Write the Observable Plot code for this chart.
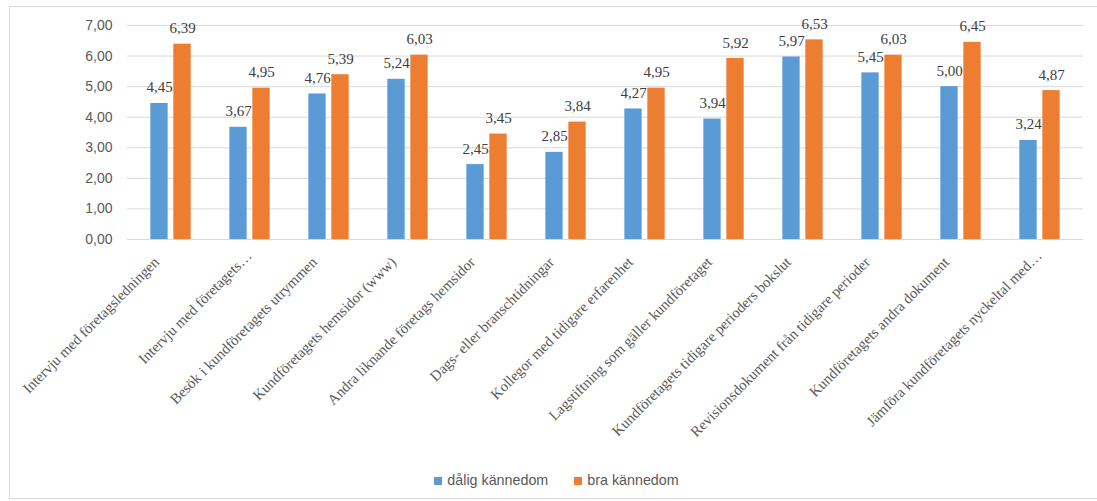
<!DOCTYPE html>
<html>
<head>
<meta charset="utf-8">
<script src="https://cdn.jsdelivr.net/npm/d3@7"></script>
<script src="https://cdn.jsdelivr.net/npm/@observablehq/plot@0.6"></script>
<style>
  html, body { margin: 0; padding: 0; background: #fff; }
  #frame {
    position: absolute; left: 9px; top: 6px;
    width: 1100px; height: 493px;
    border: 1px solid #d9d9d9; box-sizing: border-box;
  }
  #legend {
    position: absolute; left: 0; top: 465px; width: 1093px;
    display: flex; justify-content: center; gap: 26px;
    font-family: "Liberation Sans", sans-serif; font-size: 14.3px; color: #595959;
  }
  #legend span.sw { display: inline-block; width: 8px; height: 8px; margin-right: 5px; }
</style>
</head>
<body>
<div id="frame">
  <div id="chart"></div>
  <div id="legend"></div>
</div>
<script>
// Sources of information, rated by auditors with poor vs. good knowledge of the client
const categories = [
  "Intervju med företagsledningen",
  "Intervju med företagets…",
  "Besök i kundföretagets utrymmen",
  "Kundföretagets hemsidor (www)",
  "Andra liknande företags hemsidor",
  "Dags- eller branschtidningar",
  "Kollegor med tidigare erfarenhet",
  "Lagstiftning som gäller kundföretaget",
  "Kundföretagets tidigare perioders bokslut",
  "Revisionsdokument från tidigare perioder",
  "Kundföretagets andra dokument",
  "Jämföra kundföretagets nyckeltal med…"
];
const seriesNames = ["dålig kännedom", "bra kännedom"];
const daligValues = [4.45, 3.67, 4.76, 5.24, 2.45, 2.85, 4.27, 3.94, 5.97, 5.45, 5.00, 3.24];
const braValues   = [6.39, 4.95, 5.39, 6.03, 3.45, 3.84, 4.95, 5.92, 6.53, 6.03, 6.45, 4.87];
const yTicks = [0, 1, 2, 3, 4, 5, 6, 7];
const colors = ["#5b9bd5", "#ed7d31"];

const dalig = categories.map((c, i) => ({category: c, value: daligValues[i]}));
const bra = categories.map((c, i) => ({category: c, value: braValues[i]}));

const fmt = v => d3.format(".2f")(v).replace(".", ",");

const W = 1087, ML = 117, MR = 14;
const step = (W - ML - MR) / categories.length;
const barW = 18, gap = 5;
// insets place the two bars side by side in the middle of each category band
const half = step / 2;
const insBlue = {insetLeft: half - gap / 2 - barW, insetRight: half + gap / 2};
const insOrange = {insetLeft: half + gap / 2, insetRight: half - gap / 2 - barW};
const off = gap / 2 + barW / 2;

const serif = "'Liberation Serif', 'Times New Roman', serif";
const isCut = d => d.endsWith("…");

// slanted category labels, ending just under each group of bars
// (dx/dy act along the rotated text direction); shortened labels sit a bit further out
const catLabel = (filter, dx, dy) => Plot.text(categories, {
  filter, x: d => d, frameAnchor: "bottom", text: d => d,
  rotate: -45, textAnchor: "end", lineAnchor: "bottom", dx, dy,
  fontFamily: serif, fontSize: 14.8, fill: "#595959"
});

const plot = Plot.plot({
  width: W,
  height: 455,
  marginLeft: ML,
  marginRight: MR,
  marginTop: 18,
  marginBottom: 223,
  style: {background: "transparent"},
  x: {type: "band", domain: categories, padding: 0, axis: null},
  y: {domain: [0, 7]},
  marks: [
    Plot.gridY(yTicks, {stroke: "#d9d9d9", strokeOpacity: 1}),
    Plot.axisY(yTicks, {
      tickSize: 0, tickPadding: 15, tickFormat: fmt,
      fontFamily: "'Liberation Sans', sans-serif", fontSize: 14, fill: "#595959", label: null
    }),
    catLabel(d => !isCut(d), -11, 23.5),
    catLabel(isCut, 2.7, 17.1),
    Plot.barY(dalig, {x: "category", y: "value", fill: colors[0], ...insBlue}),
    Plot.barY(bra, {x: "category", y: "value", fill: colors[1], ...insOrange}),
    Plot.text(dalig, {
      x: "category", y: "value", text: d => fmt(d.value), dx: -off, dy: -11,
      lineAnchor: "bottom", fontFamily: serif, fontSize: 15, fill: "#404040"
    }),
    Plot.text(bra, {
      x: "category", y: "value", text: d => fmt(d.value), dx: off, dy: -11,
      lineAnchor: "bottom", fontFamily: serif, fontSize: 15, fill: "#404040"
    })
  ]
});
document.getElementById("chart").append(plot);

const legend = document.getElementById("legend");
seriesNames.forEach((name, i) => {
  const item = document.createElement("div");
  item.innerHTML = `<span class="sw" style="background:${colors[i]}"></span>${name}`;
  legend.append(item);
});
</script>
</body>
</html>
